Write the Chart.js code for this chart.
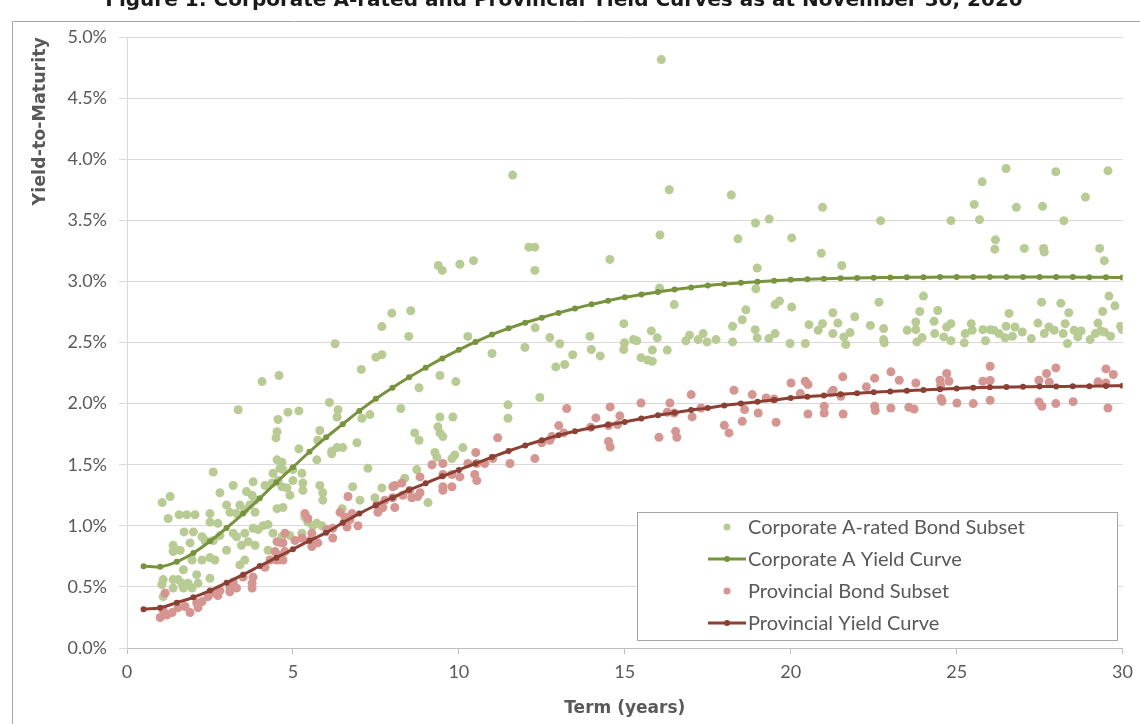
<!DOCTYPE html>
<html>
<head>
<meta charset="utf-8">
<script src="https://cdn.jsdelivr.net/npm/chart.js@4.4.1/dist/chart.umd.min.js"></script>
<style>
  html, body { margin: 0; padding: 0; background: #ffffff; }
  #wrap { width: 1140px; height: 724px; position: relative; overflow: hidden; }
</style>
</head>
<body>
<div id="wrap"><canvas id="chart" width="1140" height="724"></canvas></div>
<script>
// ---- Chart text ----
const chartTitle = 'Figure 1: Corporate A-rated and Provincial Yield Curves as at November 30, 2020';
const xAxisTitle = 'Term (years)';
const yAxisTitle = 'Yield-to-Maturity';
const seriesNames = [
  'Corporate A-rated Bond Subset',
  'Corporate A Yield Curve',
  'Provincial Bond Subset',
  'Provincial Yield Curve'
];

// ---- Fitted curve terms (years) ----
const curveTerms = [
  0.5, 1, 1.5, 2, 2.5, 3, 3.5, 4, 4.5, 5, 5.5, 6, 6.5, 7, 7.5, 8, 8.5, 9, 9.5, 10,
  10.5, 11, 11.5, 12, 12.5, 13, 13.5, 14, 14.5, 15, 15.5, 16, 16.5, 17, 17.5, 18, 18.5, 19, 19.5, 20,
  20.5, 21, 21.5, 22, 22.5, 23, 23.5, 24, 24.5, 25, 25.5, 26, 26.5, 27, 27.5, 28, 28.5, 29, 29.5, 30
];

// ---- Corporate A yield curve (%) ----
const corpCurve = [
  0.670, 0.665, 0.705, 0.777, 0.873, 0.982, 1.100, 1.225, 1.355, 1.479,
  1.606, 1.724, 1.832, 1.940, 2.040, 2.130, 2.215, 2.294, 2.370, 2.440,
  2.505, 2.565, 2.616, 2.662, 2.703, 2.742, 2.778, 2.812, 2.842, 2.870,
  2.892, 2.913, 2.934, 2.951, 2.966, 2.978, 2.988, 2.998, 3.006, 3.013,
  3.018, 3.022, 3.025, 3.028, 3.030, 3.032, 3.033, 3.034, 3.035, 3.035,
  3.036, 3.036, 3.036, 3.036, 3.036, 3.036, 3.035, 3.034, 3.033, 3.032
];

// ---- Provincial yield curve (%) ----
const provCurve = [
  0.317, 0.330, 0.371, 0.415, 0.470, 0.534, 0.600, 0.671, 0.739, 0.808,
  0.878, 0.944, 1.025, 1.100, 1.168, 1.230, 1.293, 1.348, 1.405, 1.457,
  1.510, 1.562, 1.612, 1.658, 1.700, 1.740, 1.773, 1.803, 1.826, 1.850,
  1.878, 1.905, 1.925, 1.947, 1.963, 1.985, 2.000, 2.015, 2.030, 2.045,
  2.057, 2.066, 2.076, 2.084, 2.092, 2.100, 2.106, 2.111, 2.118, 2.124,
  2.129, 2.133, 2.136, 2.137, 2.139, 2.140, 2.141, 2.143, 2.145, 2.147
];

// ---- Corporate A-rated bonds: [term, yield %] ----
const corpBonds = [
  [2.6,1.44],[1.06,1.19],[1.3,1.24],[1.24,1.06],[1.57,1.09],[1.8,1.09],[2.05,1.09],[2.5,1.1],[2.8,1.27],[3.2,1.33],[3.6,1.28],
  [1.72,0.95],[2.0,0.95],[2.26,0.91],[2.5,1.03],[2.74,1.02],[3.0,1.17],[3.1,1.11],[3.3,1.1],[3.4,1.17],[3.55,1.13],
  [1.39,0.84],[1.39,0.79],[1.6,0.8],[1.9,0.86],[2.35,0.88],[2.6,0.88],[2.8,0.92],[3.2,0.94],[3.3,0.91],[3.55,0.94],[3.65,0.87],
  [3.0,0.8],[3.45,0.84],[1.96,0.72],[2.26,0.72],[2.5,0.74],[2.65,0.72],[3.4,0.68],[3.55,0.72],
  [1.09,0.56],[1.05,0.52],[1.09,0.42],[1.39,0.56],[1.54,0.56],[1.7,0.64],[1.65,0.53],[1.84,0.53],[1.96,0.49],[2.1,0.6],
  [2.14,0.53],[2.5,0.57],[1.39,0.49],[1.7,0.49],[3.35,1.95],
  [4.07,2.18],[4.58,2.23],[6.1,2.01],[6.36,1.95],[4.85,1.93],[5.18,1.94],[4.55,1.87],[6.33,1.89],[7.08,1.88],[7.32,1.91],
  [4.52,1.77],[4.49,1.72],[5.81,1.78],[5.75,1.7],[5.18,1.63],[6.17,1.61],[6.33,1.64],[6.5,1.64],[6.17,1.59],[6.93,1.68],
  [5.72,1.54],[4.52,1.54],[4.67,1.52],[4.61,1.47],[4.7,1.46],[4.4,1.43],[5.0,1.46],[5.27,1.43],[7.26,1.47],[3.8,1.36],
  [4.16,1.33],[4.37,1.35],[4.55,1.37],[4.67,1.32],[5.0,1.37],[5.3,1.35],[4.82,1.31],[5.3,1.29],[4.91,1.25],[5.81,1.33],
  [5.9,1.27],[6.8,1.32],[5.9,1.21],[3.77,1.25],[3.86,1.21],[3.7,1.17],[3.86,1.11],[4.52,1.14],[4.7,1.15],[7.02,1.21],
  [7.47,1.23],[6.48,1.14],[5.36,1.07],[5.45,1.03],[5.72,1.02],[5.87,1.0],[5.6,1.0],[3.8,0.98],[3.95,0.97],[4.1,1.0],
  [4.25,1.01],[4.4,0.94],[4.67,0.91],[3.86,0.84],[4.25,0.8],[4.61,0.86],[4.91,0.92],[5.27,0.94],
  [6.27,2.49],[7.06,2.28],[7.5,2.38],
  [7.98,2.74],[8.55,2.76],[7.68,2.63],[8.49,2.55],[7.68,2.4],[10.27,2.55],[11.0,2.41],[11.99,2.46],[12.3,2.62],[9.43,2.23],
  [9.91,2.18],[8.8,2.13],[8.25,1.96],[11.48,1.99],[11.48,1.88],[9.43,1.89],[9.82,1.89],[9.37,1.81],[9.43,1.76],[9.52,1.73],
  [8.67,1.76],[8.8,1.7],[10.12,1.64],[9.28,1.6],[9.34,1.56],[9.88,1.58],[9.79,1.55],[8.73,1.46],[8.37,1.39],[7.68,1.31],
  [9.07,1.19],[12.44,2.05],
  [9.38,3.13],[9.5,3.09],[10.03,3.14],[10.44,3.17],[11.62,3.87],[12.11,3.28],[12.29,3.28],[12.29,3.09],
  [12.74,2.54],[13.04,2.49],[13.43,2.4],[12.92,2.3],[13.19,2.32],[14.55,3.18],
  [16.1,4.815],[16.06,3.38],[16.34,3.75],[16.05,2.946],[18.21,3.707],[18.41,3.348],[18.94,3.478],[19.35,3.51],[18.99,3.11],[18.95,2.94],
  [20.03,3.356],[20.96,3.606],[20.92,3.23],[21.54,3.13],[22.71,3.497],[24.0,2.88],[24.83,3.497],[25.53,3.63],[25.69,3.505],[25.77,3.815],
  [26.17,3.34],[26.15,3.264],[26.49,3.924],[26.8,3.606],[27.04,3.27],[27.59,3.614],[27.62,3.27],[27.64,3.24],[27.99,3.897],[28.23,3.497],
  [28.88,3.69],[29.31,3.27],[29.45,3.17],[29.56,3.905],[29.59,2.88],[19.66,2.84],[20.03,2.79],
  [16.49,2.81],[14.97,2.654],[14.99,2.497],[14.97,2.443],[15.26,2.524],[15.36,2.514],[13.95,2.55],[13.99,2.443],[14.26,2.39],[15.49,2.376],
  [15.69,2.357],[15.83,2.346],[15.83,2.438],[15.8,2.595],[15.98,2.538],[16.28,2.438],[16.84,2.514],[16.95,2.56],[17.21,2.524],[17.36,2.573],
  [17.48,2.505],[17.75,2.524],[18.25,2.632],[18.25,2.505],[18.54,2.686],[18.65,2.767],[18.93,2.605],[18.99,2.538],[19.34,2.532],[19.53,2.573],
  [19.53,2.81],[19.98,2.492],[20.44,2.492],[20.55,2.646],[20.83,2.6],[20.96,2.654],[21.27,2.743],[21.27,2.573],[21.42,2.659],[21.6,2.546],
  [21.66,2.484],[21.79,2.581],[21.93,2.711],[22.4,2.64],[22.66,2.83],[22.8,2.614],[22.8,2.524],[22.82,2.497],[23.51,2.6],[23.77,2.605],
  [23.77,2.668],[23.8,2.505],[23.89,2.754],[23.96,2.54],[24.32,2.673],[24.34,2.573],[24.43,2.762],[24.61,2.546],[24.7,2.627],[24.83,2.654],
  [24.83,2.514],[25.23,2.497],[25.26,2.573],[25.44,2.654],[25.47,2.6],[25.79,2.605],[25.87,2.514],[26.01,2.605],[26.12,2.6],[26.28,2.573],
  [26.49,2.632],[26.46,2.538],[26.58,2.738],[26.68,2.551],[26.76,2.627],[26.98,2.586],[27.25,2.532],[27.45,2.659],[27.56,2.83],[27.64,2.573],
  [27.78,2.627],[27.94,2.6],[28.14,2.822],[28.21,2.573],[28.27,2.654],[28.34,2.492],[28.38,2.743],[28.54,2.6],[28.65,2.546],[28.75,2.595],
  [29.02,2.524],[29.18,2.573],[29.26,2.659],[29.34,2.595],[29.4,2.754],[29.45,2.586],[29.64,2.551],[29.77,2.8],[29.94,2.632],[29.99,2.605]
];

// ---- Provincial bonds: [term, yield %] ----
const provBonds = [
  [1.15,0.45],[1.09,0.31],[1.2,0.27],[1.36,0.29],[1.54,0.33],[1.75,0.34],[2.1,0.37],[2.14,0.33],[2.26,0.38],[2.44,0.42],
  [2.56,0.45],[2.74,0.43],[2.8,0.47],[3.1,0.49],[3.2,0.54],[3.3,0.49],[3.5,0.58],[3.1,0.46],[1.0,0.25],[1.9,0.29],
  [6.66,1.24],[5.36,1.1],[5.45,1.06],[6.42,1.11],[6.57,1.07],[6.78,1.1],[6.72,1.05],[6.63,0.99],[6.96,1.0],[7.53,1.17],
  [7.56,1.11],[6.2,0.98],[6.2,0.9],[6.02,0.97],[5.75,0.86],[5.57,0.94],[5.51,0.88],[5.57,0.83],[5.27,0.9],[5.06,0.88],
  [4.76,0.94],[4.7,0.86],[4.52,0.87],[4.46,0.79],[4.61,0.76],[4.7,0.72],[4.52,0.72],[4.76,0.79],[4.31,0.72],[4.16,0.66],
  [3.8,0.58],[3.77,0.53],[3.77,0.49],
  [11.17,1.72],[10.51,1.6],[10.27,1.51],[10.54,1.51],[10.78,1.51],[11.02,1.55],[11.54,1.51],[12.29,1.55],[9.19,1.5],[9.52,1.51],
  [9.52,1.42],[9.79,1.42],[10.03,1.4],[10.48,1.42],[10.54,1.37],[8.83,1.4],[9.52,1.32],[9.52,1.29],[9.79,1.32],[8.01,1.32],
  [8.07,1.33],[8.28,1.35],[8.52,1.29],[8.31,1.25],[8.58,1.23],[8.76,1.24],[8.83,1.27],[7.77,1.21],[8.01,1.23],[8.07,1.15],
  [7.71,1.15],
  [13.25,1.96],[13.01,1.82],[13.16,1.76],[12.8,1.73],[12.74,1.7],[12.5,1.68],
  [13.97,1.806],[14.13,1.883],[14.51,1.82],[14.56,1.973],[14.51,1.69],[14.56,1.645],[14.78,1.828],[14.85,1.9],[15.49,2.005],[16.03,1.724],
  [16.28,1.929],[16.36,2.005],[16.49,1.923],[16.53,1.773],[16.57,1.724],[17.0,2.074],[17.03,1.891],[17.3,1.964],[18.0,1.822],[18.14,1.76],
  [18.29,2.109],[18.54,1.855],[18.61,1.951],[18.84,2.074],[19.02,1.923],[19.26,2.046],[19.5,2.038],[19.56,1.847],[20.01,2.169],[20.29,2.082],
  [20.44,2.183],[20.52,2.156],[20.52,1.915],[21.01,1.978],[21.01,1.923],[21.23,2.093],[21.28,2.109],[21.51,2.06],[21.57,2.219],[21.58,1.915],
  [22.28,2.137],[22.53,2.208],[22.53,1.978],[22.55,1.943],[23.02,2.26],[23.02,1.964],[23.27,2.191],[23.56,1.97],[23.72,1.956],[23.77,2.169],
  [24.5,2.191],[24.52,2.148],[24.53,2.041],[24.56,2.019],[24.7,2.246],[24.77,2.183],[25.01,2.005],[25.5,2.0],[25.79,2.183],[26.01,2.306],
  [26.01,2.189],[26.01,2.027],[27.48,2.191],[27.48,2.014],[27.57,1.978],[27.71,2.246],[27.79,2.175],[27.99,2.292],[27.99,2.0],[28.51,2.016],
  [29.26,2.178],[29.5,2.284],[29.5,2.169],[29.56,1.964],[29.72,2.238]
];

// ---- Axis ticks ----
const xTicks = [0, 5, 10, 15, 20, 25, 30];
const yTicks = [0, 0.5, 1.0, 1.5, 2.0, 2.5, 3.0, 3.5, 4.0, 4.5, 5.0];

// ---- Colours ----
const corpDotColor = '#b7cb92';
const corpLineColor = '#77933c';
const provDotColor = '#d69590';
const provLineColor = '#8c3f33';
const textColor = '#595959';
const gridColor = '#d9d9d9';

const toPoints = pairs => pairs.map(p => ({ x: p[0], y: p[1] }));
const curvePoints = vals => curveTerms.map((t, i) => ({ x: t, y: vals[i] }));

// Outer frame and the figure caption along the top edge
const framePlugin = {
  id: 'frame',
  beforeDraw(chart) {
    const c = chart.ctx;
    c.save();
    c.fillStyle = '#ffffff';
    c.fillRect(0, 0, chart.width, chart.height);
    c.strokeStyle = '#a6a6a6';
    c.lineWidth = 1;
    c.beginPath();
    c.moveTo(12.5, chart.height + 2);
    c.lineTo(12.5, 21.5);
    c.lineTo(chart.width + 2, 21.5);
    c.stroke();
    c.fillStyle = '#1a1a1a';
    c.font = 'bold 20px "DejaVu Sans"';
    c.textAlign = 'center';
    c.textBaseline = 'alphabetic';
    c.fillText(chartTitle, 564, 6);
    c.restore();
  }
};

// Boxed legend placed inside the plot area, lower right
const legendBoxPlugin = {
  id: 'legendBox',
  afterDatasetsDraw(chart) {
    const c = chart.ctx;
    const box = { x: 637.5, y: 512.5, w: 480, h: 128 };
    c.save();
    c.fillStyle = '#ffffff';
    c.fillRect(box.x, box.y, box.w, box.h);
    c.strokeStyle = '#a6a6a6';
    c.lineWidth = 1;
    c.strokeRect(box.x, box.y, box.w, box.h);
    const rows = [527, 559, 591, 623];
    const textX = 748;
    c.font = '20px Lato';
    c.textBaseline = 'middle';
    c.textAlign = 'left';
    chart.data.datasets.forEach((ds, i) => {
      const y = rows[i];
      if (ds.type === 'line') {
        c.strokeStyle = ds.borderColor;
        c.lineWidth = 3;
        c.beginPath();
        c.moveTo(708, y);
        c.lineTo(746, y);
        c.stroke();
        c.fillStyle = ds.borderColor;
        c.beginPath();
        c.arc(727, y, 3, 0, Math.PI * 2);
        c.fill();
      } else {
        c.fillStyle = ds.backgroundColor;
        c.beginPath();
        c.arc(727, y, 3.5, 0, Math.PI * 2);
        c.fill();
      }
      c.fillStyle = textColor;
      c.fillText(ds.label, textX, y + 1);
    });
    c.restore();
  }
};

new Chart(document.getElementById('chart'), {
  data: {
    datasets: [
      {
        type: 'scatter', label: seriesNames[0], data: toPoints(corpBonds),
        backgroundColor: corpDotColor, borderWidth: 0, pointRadius: 4.5, order: 4
      },
      {
        type: 'line', label: seriesNames[1], data: curvePoints(corpCurve),
        borderColor: corpLineColor, backgroundColor: corpLineColor, borderWidth: 3,
        pointRadius: 3, pointBorderWidth: 0, tension: 0.4, fill: false, order: 3
      },
      {
        type: 'scatter', label: seriesNames[2], data: toPoints(provBonds),
        backgroundColor: provDotColor, borderWidth: 0, pointRadius: 4.5, order: 2
      },
      {
        type: 'line', label: seriesNames[3], data: curvePoints(provCurve),
        borderColor: provLineColor, backgroundColor: provLineColor, borderWidth: 3,
        pointRadius: 3, pointBorderWidth: 0, tension: 0.4, fill: false, order: 1
      }
    ]
  },
  options: {
    responsive: false,
    animation: false,
    events: [],
    layout: { padding: { top: 37, right: 17, left: 0, bottom: 0 } },
    scales: {
      x: {
        type: 'linear', min: 0, max: 30,
        afterBuildTicks: s => { s.ticks = xTicks.map(v => ({ value: v })); },
        afterFit: s => { s.height = 76; },
        ticks: { color: textColor, font: { family: 'Lato', size: 18 }, padding: 7, callback: v => String(v) },
        grid: { drawOnChartArea: false, drawTicks: true, tickLength: 6, color: '#bfbfbf' },
        border: { color: '#bfbfbf' },
        title: {
          display: true, text: xAxisTitle, color: textColor,
          font: { family: 'DejaVu Sans', size: 17, weight: 'bold' },
          padding: { top: 0, bottom: 5 }
        }
      },
      y: {
        type: 'linear', min: 0, max: 5,
        afterBuildTicks: s => { s.ticks = yTicks.map(v => ({ value: v })); },
        afterFit: s => { s.width = 127; },
        ticks: { color: textColor, font: { family: 'Lato', size: 18 }, padding: 12, callback: v => v.toFixed(1) + '%' },
        grid: { color: gridColor, tickLength: 8 },
        border: { color: gridColor },
        title: {
          display: true, text: yAxisTitle, color: textColor, align: 'end',
          font: { family: 'DejaVu Sans', size: 17.5, weight: 'bold' },
          padding: { top: 30, bottom: 0 }
        }
      }
    },
    plugins: {
      legend: { display: false },
      tooltip: { enabled: false },
      title: { display: false }
    }
  },
  plugins: [framePlugin, legendBoxPlugin]
});
</script>
</body>
</html>
